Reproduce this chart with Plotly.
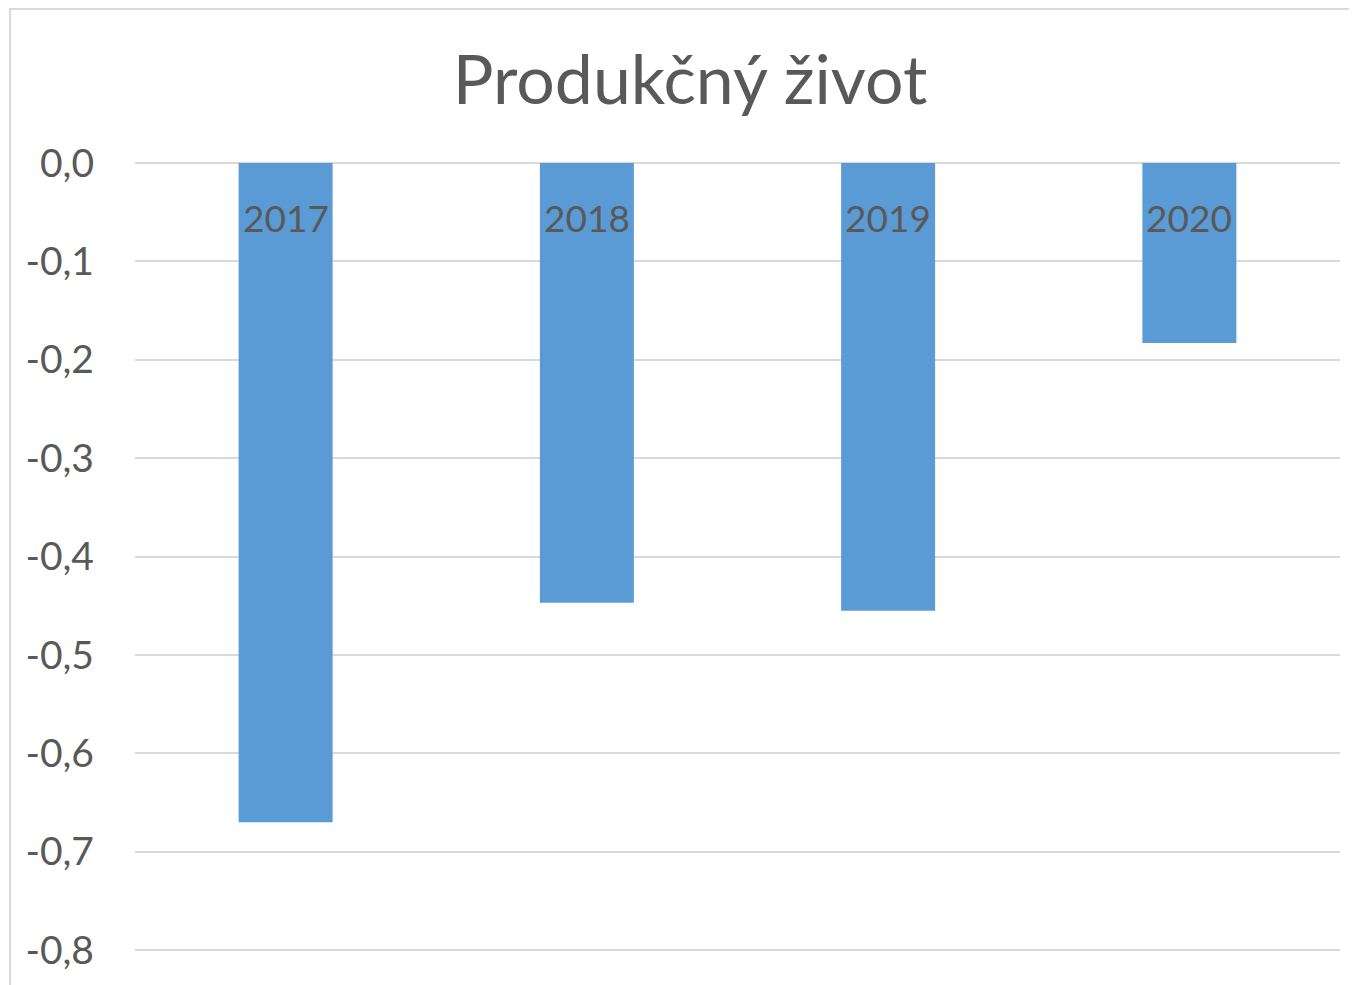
import plotly.graph_objects as go

categories = ["2017", "2018", "2019", "2020"]
values = [-0.67, -0.447, -0.455, -0.183]
tick_vals = [0, -0.1, -0.2, -0.3, -0.4, -0.5, -0.6, -0.7, -0.8]
tick_text = ["0,0", "-0,1", "-0,2", "-0,3", "-0,4", "-0,5", "-0,6", "-0,7", "-0,8"]
title_text = "Produkčný život"

FONT = "Lato"
TXT = "#595959"
OFF = 8  # browser body margin
W, H = 1357 - OFF, 985 - OFF
L, T = 135 - OFF, 163 - OFF
R = W - (1340 - OFF)
B = H - (960 - OFF)
pw, ph = W - L - R, H - T - B

fig = go.Figure(go.Bar(x=categories, y=values, marker=dict(color="#5B9BD5", line=dict(width=0))))

for i, c in enumerate(categories):
    fig.add_annotation(x=i, y=0, xref="x", yref="y", text=c, showarrow=False,
                       yanchor="middle", yshift=-54,
                       font=dict(family=FONT, size=37, color=TXT))

fig.add_shape(type="rect", xref="paper", yref="paper",
              x0=(10 - OFF - L) / pw, x1=(W + 20 - L) / pw,
              y0=(H - B - (H + 20)) / ph, y1=(H - B - 1) / ph,
              line=dict(color="#D9D9D9", width=2), layer="below")

fig.update_layout(
    width=W, height=H,
    margin=dict(l=L, r=R, t=T, b=B, autoexpand=False),
    plot_bgcolor="white", paper_bgcolor="white",
    bargap=0.688,
    showlegend=False,
    title=dict(text=title_text, xref="container", yref="container",
               x=(690 - OFF) / W, y=1 - (80 - OFF) / H, xanchor="center", yanchor="middle",
               font=dict(family=FONT, size=68, color=TXT)),
    xaxis=dict(type="category", showticklabels=False, showgrid=False, zeroline=False,
               showline=False, range=[-0.5, 3.5]),
    yaxis=dict(range=[-0.81, 0], tickvals=tick_vals, ticktext=tick_text,
               showgrid=True, gridcolor="#D9D9D9", gridwidth=2,
               zeroline=True, zerolinecolor="#D9D9D9", zerolinewidth=2,
               showline=False, ticks="", ticklabelstandoff=40,
               tickfont=dict(family=FONT, size=39, color=TXT)),
)

fig.write_html("out.html")
